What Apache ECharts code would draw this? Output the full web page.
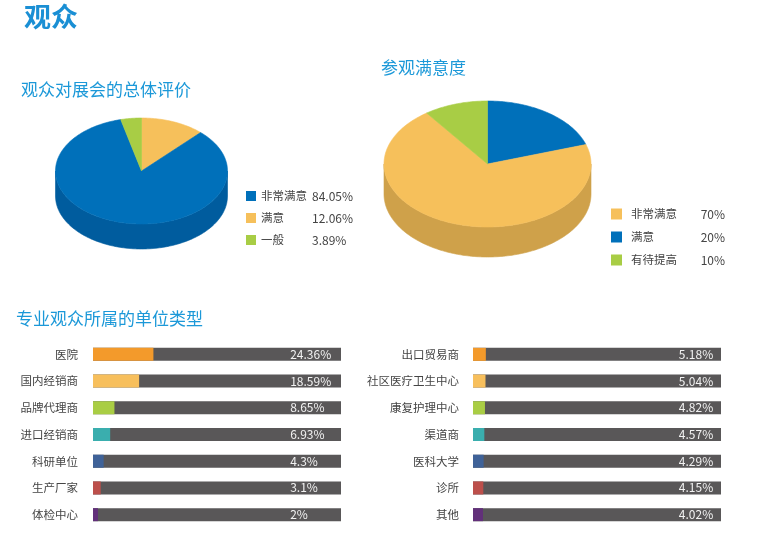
<!DOCTYPE html>
<html><head><meta charset="utf-8">
<script src="https://cdn.jsdelivr.net/npm/echarts@6/dist/echarts.min.js"></script>
<style>html,body{margin:0;padding:0;background:#fff}#c{width:763px;height:534px}</style>
</head><body><div id="c"></div>
<script>
// ---- data ----
const evalNames = ['非常满意', '满意', '一般'];
const evalValues = [84.05, 12.06, 3.89];
const satNames = ['非常满意', '满意', '有待提高'];
const satValues = [70, 20, 10];
const unitLeftNames = ['医院', '国内经销商', '品牌代理商', '进口经销商', '科研单位', '生产厂家', '体检中心'];
const unitLeftValues = [24.36, 18.59, 8.65, 6.93, 4.3, 3.1, 2];
const unitRightNames = ['出口贸易商', '社区医疗卫生中心', '康复护理中心', '渠道商', '医科大学', '诊所', '其他'];
const unitRightValues = [5.18, 5.04, 4.82, 4.57, 4.29, 4.15, 4.02];
const trackMax = 100;

// ---- styles ----
const evalTop = ['#0070BA', '#F6C05B', '#A8CD45'];
const evalSide = ['#005C9E', '#CFA14A', '#8CAD35'];
const satTop = ['#F6C05B', '#0070BA', '#A8CD45'];
const satSide = ['#CFA14A', '#005C9E', '#8CAD35'];
const drawOrder = [1, 0, 2];
const barColors = ['#F39A2B', '#F7BF5C', '#A9CD44', '#3AAEAE', '#3F6298', '#BC4F4B', '#62307A'];
const CJK = '"Noto Sans CJK SC", "Noto Sans", sans-serif';

function sliceData(values) {
  const total = values.reduce((a, b) => a + b, 0);
  let acc = 0;
  return drawOrder.map(k => {
    const s = acc / total; acc += values[k];
    return [s, acc / total, k];
  });
}

function pie3d(cx, cy, rx, ry, depth, topColors, sideColors) {
  return function (params, api) {
    const s = api.value(0), e = api.value(1), k = api.value(2);
    const pt = (f, dy) => { const a = f * 2 * Math.PI; return [cx + rx * Math.sin(a), cy - ry * Math.cos(a) + dy]; };
    const arc = (a, b, dy) => {
      const n = Math.max(2, Math.ceil((b - a) * 360));
      const r = [];
      for (let i = 0; i <= n; i++) r.push(pt(a + (b - a) * i / n, dy));
      return r;
    };
    const children = [];
    const fs = Math.max(s, 0.25), fe = Math.min(e, 0.75);
    if (fe > fs) {
      const top = arc(fs, fe, 0), bot = arc(fs, fe, depth).reverse();
      children.push({ type: 'polygon', z2: 1, shape: { points: top.concat(bot) },
        style: { fill: sideColors[k], stroke: sideColors[k], lineWidth: 0.6 } });
    }
    children.push({ type: 'polygon', z2: 10, shape: { points: [[cx, cy]].concat(arc(s, e, 0)) },
      style: { fill: topColors[k], stroke: topColors[k], lineWidth: 0.6 } });
    return { type: 'group', children };
  };
}

function legendData(names, colors) {
  return names.map((n, i) => ({ name: n, itemStyle: { color: colors[i], opacity: 1, borderWidth: 0 } }));
}

const chart = echarts.init(document.getElementById('c'));

const titleStyle = { color: '#1B98D8', fontSize: 17, fontWeight: 'normal', fontFamily: CJK };

const option = {
  backgroundColor: '#fff',
  animation: false,
  title: [
    { text: '观众', left: 24, top: 3, padding: 0, textStyle: { color: '#1A8FD4', fontSize: 27, fontWeight: 'bold', fontFamily: CJK } },
    { text: '观众对展会的总体评价', left: 21, top: 81, padding: 0, textStyle: titleStyle },
    { text: '参观满意度', left: 381, top: 59, padding: 0, textStyle: titleStyle },
    { text: '专业观众所属的单位类型', left: 16, top: 310, padding: 0, textStyle: titleStyle }
  ],
  legend: [
    {
      orient: 'vertical', left: 246, top: 190, padding: 0, itemGap: 10,
      itemWidth: 10, itemHeight: 10, icon: 'rect', selectedMode: false,
      data: legendData(evalNames, evalTop),
      formatter: name => `{n|${name}}{v|${evalValues[evalNames.indexOf(name)]}%}`,
      textStyle: { rich: {
        n: { width: 51, fontSize: 11.5, color: '#444', fontFamily: CJK, lineHeight: 14 },
        v: { fontSize: 12, color: '#444', fontFamily: CJK, lineHeight: 14 }
      } }
    },
    {
      orient: 'vertical', left: 611, top: 208, padding: 0, itemGap: 11,
      itemWidth: 11, itemHeight: 11, icon: 'rect', selectedMode: false,
      data: legendData(satNames, satTop),
      formatter: name => `{n|${name}}{v|${satValues[satNames.indexOf(name)]}%}`,
      textStyle: { rich: {
        n: { width: 70, padding: [0, 0, 0, 4], fontSize: 11.5, color: '#444', fontFamily: CJK, lineHeight: 14 },
        v: { width: 24, align: 'right', fontSize: 12, color: '#444', fontFamily: CJK, lineHeight: 14 }
      } }
    }
  ],
  grid: [
    { left: 93, top: 341, width: 248, height: 187 },
    { left: 473, top: 341, width: 248, height: 187 }
  ],
  xAxis: [
    { gridIndex: 0, type: 'value', min: 0, max: trackMax, show: false },
    { gridIndex: 1, type: 'value', min: 0, max: trackMax, show: false }
  ],
  yAxis: [
    { gridIndex: 0, type: 'category', inverse: true, data: unitLeftNames,
      axisLine: { show: false }, axisTick: { show: false },
      axisLabel: { margin: 15, color: '#444', fontSize: 11.5, fontFamily: CJK } },
    { gridIndex: 1, type: 'category', inverse: true, data: unitRightNames,
      axisLine: { show: false }, axisTick: { show: false },
      axisLabel: { margin: 14, color: '#444', fontSize: 11.5, fontFamily: CJK } }
  ],
  series: [
    { type: 'custom', name: 'eval3d', coordinateSystem: 'none', silent: true,
      renderItem: pie3d(141.5, 171, 86, 53, 25, evalTop, evalSide), data: sliceData(evalValues) },
    { type: 'custom', name: 'sat3d', coordinateSystem: 'none', silent: true,
      renderItem: pie3d(487.5, 164, 103.5, 63, 30, satTop, satSide), data: sliceData(satValues) },
    { type: 'pie', silent: true, radius: [0, 0], center: [-50, -50], label: { show: false },
      data: evalNames.map((n, i) => ({ name: n, value: evalValues[i], itemStyle: { color: evalTop[i] } })) },
    { type: 'pie', silent: true, radius: [0, 0], center: [-50, -50], label: { show: false },
      data: satNames.map((n, i) => ({ name: n, value: satValues[i], itemStyle: { color: satTop[i] } })) },
    // tracks
    { type: 'bar', xAxisIndex: 0, yAxisIndex: 0, barWidth: 13, silent: true,
      data: unitLeftNames.map(() => trackMax), itemStyle: { color: '#595758' },
      label: { show: true, position: ['79.5%', '50%'], align: 'left', verticalAlign: 'middle',
        color: '#F2F2F2', fontSize: 12, fontFamily: CJK,
        formatter: p => unitLeftValues[p.dataIndex] + '%' } },
    { type: 'bar', xAxisIndex: 0, yAxisIndex: 0, barWidth: 13, barGap: '-100%', silent: true,
      data: unitLeftValues.map((v, i) => ({ value: v, itemStyle: { color: barColors[i] } })) },
    { type: 'bar', xAxisIndex: 1, yAxisIndex: 1, barWidth: 13, silent: true,
      data: unitRightNames.map(() => trackMax), itemStyle: { color: '#595758' },
      label: { show: true, position: ['83%', '50%'], align: 'left', verticalAlign: 'middle',
        color: '#F2F2F2', fontSize: 12, fontFamily: CJK,
        formatter: p => unitRightValues[p.dataIndex] + '%' } },
    { type: 'bar', xAxisIndex: 1, yAxisIndex: 1, barWidth: 13, barGap: '-100%', silent: true,
      data: unitRightValues.map((v, i) => ({ value: v, itemStyle: { color: barColors[i] } })) }
  ]
};
chart.setOption(option);
</script>
</body></html>
